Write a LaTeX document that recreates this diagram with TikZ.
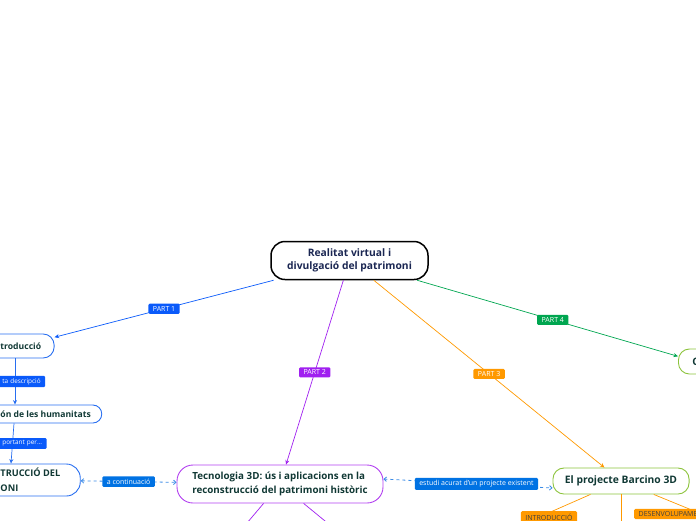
\documentclass[tikz,border=0pt]{standalone}
\usepackage{fontspec}
\setmainfont{Open Sans}
\usepackage{tikz}
\usetikzlibrary{arrows.meta}
\definecolor{RootText}{RGB}{26,38,82}
\definecolor{NodeText}{RGB}{16,56,52}
\definecolor{PartBlue}{RGB}{10,90,250}
\definecolor{PartPurple}{RGB}{160,32,240}
\definecolor{PartOrange}{RGB}{255,153,0}
\definecolor{PartGreen}{RGB}{0,166,80}
\definecolor{TopicBlue}{RGB}{40,110,240}
\definecolor{TopicPurple}{RGB}{178,64,240}
\definecolor{TopicGreen}{RGB}{140,195,60}
\definecolor{LinkBlue}{RGB}{0,114,227}
\definecolor{DashBlue}{RGB}{60,140,230}

\begin{document}
\begin{tikzpicture}[
    x=1pt, y=-1pt,
    root/.style={draw=black, line width=1.5pt, rounded corners=14pt, minimum width=157pt, minimum height=38pt, font=\bfseries\fontsize{10.3}{13}\selectfont, text=RootText, align=center},
    topic/.style={draw, line width=0.9pt, rounded corners=11pt, minimum height=24pt, inner xsep=12pt, font=\bfseries\fontsize{8.6}{12}\selectfont, text=NodeText, align=left},
    tag/.style={rounded corners=1.2pt, inner xsep=4.5pt, inner ysep=2.5pt, font=\fontsize{7}{8}\selectfont, text=white},
    arrow/.style={-{Stealth[length=4.5pt,width=4pt]}, line width=0.7pt},
    link/.style={{Straight Barb[length=2.5pt,width=4.5pt]}-{Straight Barb[length=2.5pt,width=4.5pt]}, dashed, line width=0.8pt, DashBlue}
]
    \useasboundingbox (0,0) rectangle (696,520);
    \clip (0,0) rectangle (696,520);

    \node[root] (root) at (349.5,260.5) {Realitat virtual i\\divulgació del patrimoni};
    \node[topic, draw=TopicBlue, anchor=west, inner xsep=13pt] (intro) at (-13,346) {troducció};
    \node[topic, draw=TopicBlue, anchor=west, minimum height=18pt, inner xsep=11pt, rounded corners=9pt] (human) at (-11,414) {ón de les humanitats};
    \node[topic, draw=TopicBlue, anchor=west, minimum height=32pt, inner xsep=20pt, rounded corners=14pt, font=\bfseries\fontsize{9.2}{15}\selectfont] (recon) at (-20,480) {TRUCCIÓ DEL\\ONI};
    \node[topic, draw=TopicPurple, minimum width=206pt, minimum height=38pt, rounded corners=16pt, font=\bfseries\fontsize{9.8}{13.5}\selectfont] (tecno) at (280,484) {Tecnologia 3D: ús i aplicacions en la\\reconstrucció del patrimoni històric};
    \node[topic, draw=TopicGreen, minimum width=136pt, minimum height=26pt, align=center, font=\bfseries\fontsize{10.3}{13}\selectfont] (barcino) at (621,481) {El projecte Barcino 3D};
    \node[topic, draw=TopicGreen, anchor=west, minimum height=25pt, inner xsep=14pt, font=\bfseries\fontsize{10.3}{13}\selectfont] (concl) at (678,361.5) {C};

    \coordinate (tecL) at (236,536);
    \coordinate (tecR) at (336,530);
    \coordinate (barL) at (505,532);
    \coordinate (barM) at (621,545);
    \coordinate (barR) at (721,522);

    \draw[arrow, PartBlue] (root) -- node[tag, fill=PartBlue] {PART 1} (intro);
    \draw[arrow, PartPurple] (root) -- node[tag, fill=PartPurple] {PART 2} (tecno);
    \draw[arrow, PartOrange] (root) -- node[tag, fill=PartOrange] {PART 3} (barcino);
    \draw[arrow, PartGreen] (root) -- node[tag, fill=PartGreen, pos=0.52] {PART 4} (concl);

    \draw[arrow, TopicBlue] ([xshift=28pt]intro.south west) -- ([xshift=26pt]human.north west)
        node[midway, tag, fill=PartBlue, anchor=east, xshift=30.5pt, text width=48pt, align=right, font=\fontsize{6.4}{8}\selectfont] {ta descripció};
    \draw[arrow, TopicBlue] ([xshift=25pt]human.south west) -- ([xshift=31pt]recon.north west)
        node[midway, tag, fill=PartBlue, anchor=east, xshift=34.5pt, text width=48pt, align=right, font=\fontsize{6.4}{8}\selectfont] {portant per...};

    \draw[link] (recon) -- node[tag, fill=LinkBlue] {a continuació} (tecno);
    \draw[link] ([yshift=5pt]tecno.east) -- node[tag, fill=LinkBlue, pos=0.55] {estudi acurat d'un projecte existent} ([yshift=-7pt]barcino.west);

    \draw[PartPurple, line width=0.7pt] (tecno) -- (tecL);
    \draw[PartPurple, line width=0.7pt] (tecno) -- (tecR);
    \draw[PartOrange, line width=0.7pt] (barcino) -- (barL);
    \draw[PartOrange, line width=0.7pt] (barcino) -- (barM);
    \draw[PartOrange, line width=0.7pt] (barcino) -- (barR);

    \node[tag, fill=PartOrange, text=black!75] (introTag) at (549,517) {INTRODUCCIÓ};
    \node[tag, fill=PartOrange, text=black!75, anchor=west, text width=70pt, align=left] (devTag) at (634,514) {DESENVOLUPAME};
\end{tikzpicture}
\end{document}
